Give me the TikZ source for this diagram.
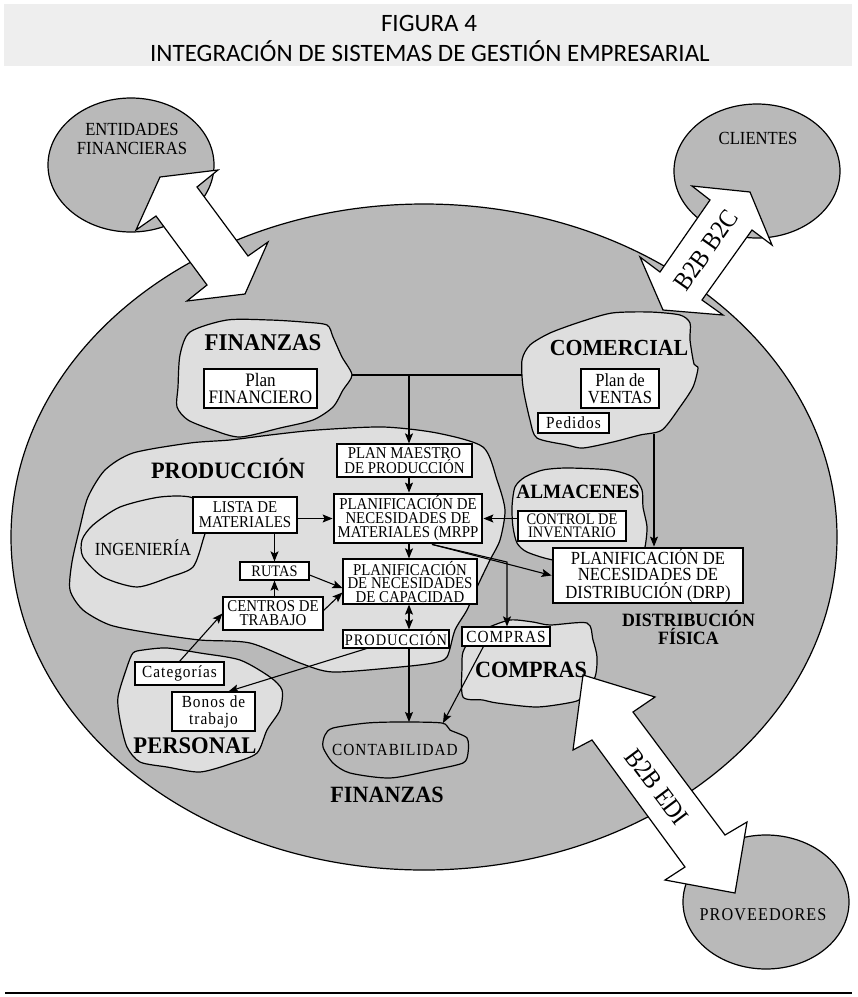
\documentclass[tikz,border=0pt]{standalone}
\usepackage{fontspec}
\setmainfont{Liberation Serif}
\newfontfamily\cf[FakeStretch=0.9]{Liberation Serif}
\newfontfamily\cfs[FakeStretch=0.9,LetterSpace=6]{Liberation Serif}
\newfontfamily\lbl[FakeStretch=0.95]{Liberation Serif}
\newfontfamily\ttl{Carlito}
\usetikzlibrary{arrows.meta,calc}
\newcommand\fsz[2]{\fontsize{#1}{#2}\selectfont}
\definecolor{outergray}{HTML}{B9B9B9}
\definecolor{blobgray}{HTML}{DEDEDE}
\definecolor{titlebg}{HTML}{EEEEEE}
\begin{document}
\begin{tikzpicture}[x=1pt,y=-1pt,
  grayfill/.style={draw=black, line width=1.2pt, fill=outergray},
  blobst/.style={draw=black, line width=1.2pt, fill=blobgray},
  bigarrow/.style={draw=black, line width=1.2pt, fill=white, line join=miter},
  bx/.style={draw=black, line width=1.2pt, fill=white, inner sep=0pt, align=center},
  tbox/.style={bx, line width=2.8pt},
  lab/.style={inner sep=0pt, align=center},
  plain/.style={line width=1.1pt},
  conn/.style={line width=1.1pt, -{Stealth[length=10pt,width=8pt,inset=2pt]}},
  dconn/.style={line width=1.1pt, {Stealth[length=10pt,width=8pt,inset=2pt]}-{Stealth[length=10pt,width=8pt,inset=2pt]}}
]
\useasboundingbox (0,0) rectangle (858,997);
% title
\fill[titlebg] (4,4) rectangle (852,66);
\node[lab, font=\ttl\fsz{25}{28}] (fig) at (429,23) {FIGURA 4};
\node[lab, font=\ttl\fsz{25}{28}] (tit) at (430,51) {INTEGRACIÓN DE SISTEMAS DE GESTIÓN EMPRESARIAL};
\draw[line width=1.3pt] (5,993) -- (852,993);

% big ellipse and outer circles
\draw[grayfill] (424,537) ellipse [x radius=413, y radius=333];
\draw[grayfill] (131,165) ellipse [x radius=83, y radius=67];
\draw[grayfill] (757,171) ellipse [x radius=83, y radius=67];
\draw[grayfill] (766,902) ellipse [x radius=83, y radius=67];

% blobs
\draw[blobst] plot[smooth cycle, tension=0.45] coordinates {
 (190,332) (227,320) (270,320) (303,322) (327,325) (333,337) (342,357) (352,375)
 (343,390) (333,407) (313,420) (280,428) (240,437) (213,430) (188,420) (177,407) (178,387) (180,355)};
\draw[blobst] plot[smooth cycle, tension=0.45] coordinates {
 (522,360) (530,345) (550,333) (580,322) (612,313) (650,312) (680,315) (690,323) (690,340)
 (694,364) (698,368) (693,387) (680,407) (662,430) (640,435) (613,442) (583,448) (567,445)
 (537,438) (530,420) (523,387)};
\draw[blobst] plot[smooth cycle, tension=0.45] coordinates {
 (70,590) (72,562) (80,527) (88,497) (105,470) (133,453) (190,443) (230,440) (270,435)
 (317,430) (383,427) (437,433) (483,447) (497,480) (505,510) (500,540) (490,560) (478,585)
 (467,610) (455,630) (447,657) (433,663) (400,667) (333,672) (300,663) (250,643) (200,640)
 (150,633) (110,625) (83,610)};
\draw[line width=1.2pt] plot[smooth cycle, tension=0.45] coordinates {
 (82,540) (93,525) (120,507) (160,497) (193,498) (207,520) (203,540) (193,567) (170,577)
 (137,587) (103,577) (83,557)};
\draw[blobst] plot[smooth cycle, tension=0.45] coordinates {
 (513,527) (512,507) (515,487) (525,477) (543,470) (567,468) (610,470) (633,477) (642,490)
 (643,507) (647,527) (645,547) (640,560) (600,565) (553,560) (527,552) (517,543)};
\draw[blobst] plot[smooth cycle, tension=0.45] coordinates {
 (133,653) (143,650) (167,648) (200,653) (240,660) (270,677) (282,690) (280,710) (267,730)
 (257,753) (233,763) (200,772) (167,767) (140,762) (127,747) (120,720) (118,697) (127,667)};
\draw[blobst] plot[smooth cycle, tension=0.45] coordinates {
 (472,637) (487,628) (510,620) (533,622) (550,625) (587,623) (593,640) (597,657) (595,677)
 (582,697) (573,702) (537,707) (497,703) (483,700) (463,697) (462,667) (463,652)};
\draw[line width=1.2pt] plot[smooth cycle, tension=0.45] coordinates {
 (325,735) (333,728) (367,723) (400,722) (442,723) (450,730) (467,738) (468,753) (463,763)
 (433,770) (390,778) (350,773) (333,763) (323,747)};

% big double arrows
\draw[bigarrow] (160,177) -- (218,170) -- (197,187) -- (248,256) -- (268,242) -- (245,294)
 -- (187,301) -- (207,285) -- (156,216) -- (136,230) -- cycle;
\draw[bigarrow] (750,192) -- (772,245) -- (752,230) -- (702,300) -- (723,315) -- (663,310)
 -- (640,257) -- (660,272) -- (710,200) -- (692,186) -- cycle;
\draw[bigarrow] (583,675) -- (655,697) -- (633,712) -- (725,835) -- (747,822) -- (735,893)
 -- (665,880) -- (685,867) -- (592,740) -- (573,750) -- cycle;
\node[lab, rotate=54.8, font=\cf\fsz{26}{26}] (b2c) at (706,250) {B2B B2C};
\node[lab, rotate=-53, font=\cf\fsz{26}{26}] (edi) at (657,787) {B2B EDI};

% circle texts
\node[lab, font=\cf\fsz{18.5}{19}] (entid) at (132,139) {ENTIDADES\\FINANCIERAS};
\node[lab, font=\cf\fsz{18.5}{19}] (clientes) at (758,138) {CLIENTES};
\node[lab, font=\cfs\fsz{18}{19}] (prov) at (763,915) {PROVEEDORES};

% boxes
\node[bx, minimum width=113pt, minimum height=39pt, font=\cf\fsz{19}{17}] (pf) at (260.5,388.5) {Plan\\FINANCIERO};
\node[bx, minimum width=78pt, minimum height=39pt, font=\cf\fsz{18.5}{17}] (pv) at (620,388.5) {Plan de\\VENTAS};
\node[bx, minimum width=71pt, minimum height=20pt, font=\cfs\fsz{17}{17}] (ped) at (573.5,423) {Pedidos};
\node[bx, minimum width=135pt, minimum height=33pt, font=\cf\fsz{16.5}{15}] (pm) at (404.5,460.5) {PLAN MAESTRO\\DE PRODUCCIÓN};
\node[tbox, minimum width=148pt, minimum height=49pt, font=\cf\fsz{16.5}{14}] (mrpp) at (408,518.5) {PLANIFICACIÓN DE\\NECESIDADES DE\\MATERIALES (MRPP};
\node[bx, minimum width=134pt, minimum height=45pt, font=\cf\fsz{16.5}{13.5}] (cap) at (410,581.5) {PLANIFICACIÓN\\DE NECESIDADES\\DE CAPACIDAD};
\node[bx, minimum width=106pt, minimum height=18pt, font=\cfs\fsz{16}{16}] (prod) at (396,639) {PRODUCCIÓN};
\node[bx, minimum width=88pt, minimum height=19pt, font=\cfs\fsz{17}{17}] (cb) at (506,636.5) {COMPRAS};
\node[bx, minimum width=108pt, minimum height=30pt, font=\cf\fsz{16}{12.5}] (ctrl) at (572,526) {CONTROL DE\\INVENTARIO};
\node[tbox, minimum width=190pt, minimum height=55pt, font=\cf\fsz{18.5}{16}] (drp) at (648,575.5) {PLANIFICACIÓN DE\\NECESIDADES DE\\DISTRIBUCIÓN (DRP)};
\node[bx, minimum width=104pt, minimum height=36pt, font=\cf\fsz{16.5}{15}] (lista) at (245,515) {LISTA DE\\MATERIALES};
\node[bx, minimum width=69pt, minimum height=18pt, font=\cf\fsz{16}{16}] (rutas) at (274.5,571) {RUTAS};
\node[bx, minimum width=100pt, minimum height=33pt, font=\cf\fsz{16.5}{14}] (centros) at (273,613.5) {CENTROS DE\\TRABAJO};
\node[bx, minimum width=89pt, minimum height=23pt, font=\cfs\fsz{17}{17}] (cat) at (179.5,673.5) {Categorías};
\node[bx, minimum width=83pt, minimum height=39pt, font=\cfs\fsz{17}{17}] (bonos) at (213.5,711.5) {Bonos de\\trabajo};

% connectors
\coordinate (finR) at (352,375);
\coordinate (comL) at (522,375);
\coordinate (j1) at (409,375);
\coordinate (ct1) at (409,722);
\coordinate (ct2) at (443,723);
\coordinate (cm1) at (654,434);
\coordinate (m1) at ($(mrpp.south)+(24,0)$);
\coordinate (c1) at (507,562);
\draw[plain] (finR) -- (comL);
\draw[conn] (j1) -- (j1 |- pm.north);
\draw[conn] (pm.south -| j1) -- (mrpp.north -| j1);
\draw[conn] (mrpp.south -| j1) -- (cap.north -| j1);
\draw[dconn] (cap.south -| j1) -- (prod.north -| j1);
\draw[conn] (prod.south -| j1) -- (ct1);
\draw[conn] (lista.east |- mrpp.west) -- (mrpp.west);
\draw[conn] (ctrl.west |- mrpp.east) -- (mrpp.east);
\draw[conn] (lista.south -| rutas.north) -- (rutas.north);
\draw[conn] (centros.north -| rutas.south) -- (rutas.south);
\draw[conn] ($(rutas.east)+(0,4)$) -- ($(cap.west)+(0,6.5)$);
\draw[conn] ($(centros.east)+(0,-3)$) -- ($(cap.west)+(0,11)$);
\draw[conn] (cat.north) -- (centros.west);
\draw[conn] ($(prod.south west)+(24,0)$) -- ($(bonos.north)+(15,0)$);
\draw[conn] ($(cb.south west)+(22,0)$) -- (ct2);
\draw[conn] (m1) -- (drp.west);
\draw[conn] (m1) -- (c1) -- (c1 |- cb.north);
\draw[conn] (cm1) -- (cm1 |- drp.north);

% region labels
\node[lab, font=\lbl\bfseries\fsz{24}{24}] (lfin) at (263,343) {FINANZAS};
\node[lab, font=\lbl\bfseries\fsz{23}{23}] (lcom) at (619,348) {COMERCIAL};
\node[lab, font=\lbl\bfseries\fsz{23.5}{23.5}] (lprod) at (228,469) {PRODUCCIÓN};
\node[lab, font=\lbl\bfseries\fsz{20.3}{20.3}] (lalm) at (578,492) {ALMACENES};
\node[lab, font=\lbl\bfseries\fsz{23.8}{23.8}] (lpers) at (195,746) {PERSONAL};
\node[lab, font=\lbl\bfseries\fsz{23.3}{23.3}] (lcomp) at (531,670) {COMPRAS};
\node[lab, font=\lbl\bfseries\fsz{23.3}{23.3}] (lfin2) at (387,795) {FINANZAS};
\node[lab, font=\lbl\bfseries\fsz{18.8}{18}] (ldist) at (688.5,628) {DISTRIBUCIÓN\\FÍSICA};
\node[lab, font=\cf\fsz{18.5}{18.5}] (ing) at (143,548) {INGENIERÍA};
\node[lab, font=\cfs\fsz{17}{17}] (contab) at (395,750) {CONTABILIDAD};
\end{tikzpicture}
\end{document}
